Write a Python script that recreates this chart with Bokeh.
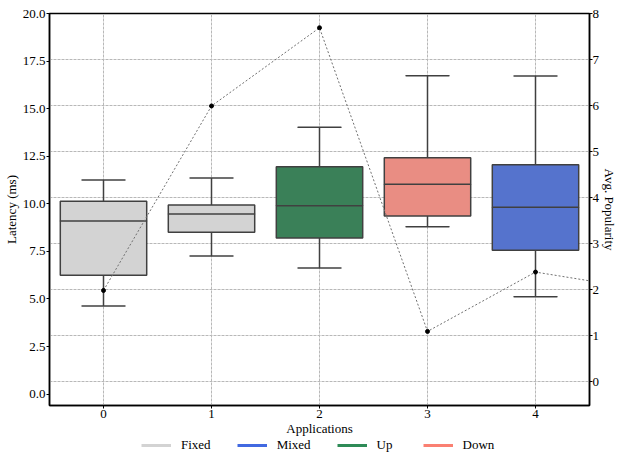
from bokeh.plotting import figure
from bokeh.layouts import column
from bokeh.models import (Range1d, LinearAxis, FixedTicker, Grid, Legend, LegendItem,
                          ColumnDataSource, Label, NumeralTickFormatter)
from bokeh.embed import file_html
from bokeh.resources import INLINE

# ---- data ----
categories = [0, 1, 2, 3, 4]
groups = ["Fixed", "Fixed", "Up", "Down", "Mixed"]
whisker_low = [4.63, 7.26, 6.62, 8.80, 5.12]
q1 = [6.25, 8.50, 8.20, 9.36, 7.56]
median = [9.09, 9.46, 9.90, 11.03, 9.82]
q3 = [10.14, 9.93, 11.95, 12.42, 12.05]
whisker_high = [11.25, 11.36, 14.02, 16.73, 16.72]

pop_x = [0, 1, 2, 3, 4, 5]
avg_popularity = [1.98, 5.99, 7.69, 1.09, 2.38, 2.0]

legend_labels = ["Fixed", "Mixed", "Up", "Down"]
legend_colors = ["#d3d3d3", "#4169e1", "#2e8b57", "#fa8072"]
box_colors = {"Fixed": "#d3d3d3", "Mixed": "#5573cd", "Up": "#3a8058", "Down": "#e98d83"}

left_ticks = [0, 2.5, 5, 7.5, 10, 12.5, 15, 17.5, 20]
right_ticks = [0, 1, 2, 3, 4, 5, 6, 7, 8]

FONT = "Liberation Serif"
EDGE = "#404040"

p = figure(width=620, height=438, output_backend="svg", toolbar_location=None,
           x_range=Range1d(-0.5, 4.5), y_range=Range1d(-0.6, 20.0),
           min_border_left=40, min_border_right=5, min_border_top=13, min_border_bottom=20)
p.extra_y_ranges = {"pop": Range1d(-0.52, 8.0)}

p.outline_line_color = "black"
p.outline_line_width = 1.5
p.xgrid.visible = False
p.ygrid.visible = False

# grids
p.add_layout(Grid(dimension=0, ticker=FixedTicker(ticks=categories), grid_line_color="#b8b8b8",
                  grid_line_dash="3 1", grid_line_width=1))
p.add_layout(Grid(dimension=1, ticker=FixedTicker(ticks=right_ticks), y_range_name="pop",
                  grid_line_color="#b8b8b8", grid_line_dash="3 1", grid_line_width=1))

src = ColumnDataSource(dict(x=categories, lo=whisker_low, q1=q1, med=median, q3=q3, hi=whisker_high,
                            color=[box_colors[g] for g in groups]))

# whiskers
p.segment(x0="x", y0="hi", x1="x", y1="q3", source=src, line_color=EDGE, line_width=1.5)
p.segment(x0="x", y0="lo", x1="x", y1="q1", source=src, line_color=EDGE, line_width=1.5)
p.rect(x="x", y="hi", width=0.4, height=0.0001, source=src, line_color=EDGE, line_width=1.5, fill_alpha=0)
p.rect(x="x", y="lo", width=0.4, height=0.0001, source=src, line_color=EDGE, line_width=1.5, fill_alpha=0)
# boxes
p.vbar(x="x", bottom="q1", top="q3", width=0.8, source=src, fill_color="color",
       line_color=EDGE, line_width=1.5)
p.rect(x="x", y="med", width=0.8, height=0.0001, source=src, line_color=EDGE, line_width=1.5, fill_alpha=0)

# popularity line
p.line(pop_x, avg_popularity, y_range_name="pop", line_color="#707070", line_width=1,
       line_dash="2 2")
p.scatter(pop_x, avg_popularity, y_range_name="pop", size=4, color="black")

# axes
p.xaxis.ticker = FixedTicker(ticks=categories)
p.xaxis.axis_label = "Applications"
p.yaxis.ticker = FixedTicker(ticks=left_ticks)
p.yaxis.formatter = NumeralTickFormatter(format="0.0")
p.yaxis.axis_label = "Latency (ms)"

raxis = LinearAxis(y_range_name="pop", ticker=FixedTicker(ticks=right_ticks),
                   axis_label="Avg. Popularity")
p.add_layout(raxis, "right")

for ax in [p.xaxis[0], p.yaxis[0], raxis]:
    ax.major_label_text_font = FONT
    ax.major_label_text_font_size = "13px"
    ax.major_label_text_color = "black"
    ax.axis_label_text_font = FONT
    ax.axis_label_text_font_size = "13px"
    ax.axis_label_text_font_style = "normal"
    ax.axis_label_text_color = "black"
    ax.axis_line_color = "black"
    ax.axis_line_width = 1.5
    ax.major_tick_line_color = "black"
    ax.major_tick_in = 0
    ax.major_tick_out = 3
    ax.minor_tick_line_color = None
    ax.major_label_standoff = 1
    ax.axis_label_standoff = 1
p.xaxis.axis_label_standoff = 0
raxis.axis_label_standoff = 0
raxis.major_label_standoff = 0

# partially visible panel title
p.add_layout(Label(x=2, y=20.72, text="(a)", text_font=FONT, text_font_size="15px",
                   text_align="center", text_baseline="alphabetic"))

# legend strip below the chart (its line renderers lie outside the visible range)
lg = figure(width=620, height=18, output_backend="svg", toolbar_location=None,
            x_range=Range1d(0, 1), y_range=Range1d(0, 1),
            min_border=0, outline_line_color=None)
lg.axis.visible = False
lg.grid.visible = False
items = []
for lab, col in zip(legend_labels, legend_colors):
    r = lg.line([10, 11], [10, 11], line_color=col, line_width=3)
    items.append(LegendItem(label=lab, renderers=[r]))
legend = Legend(items=items, orientation="horizontal", location=(92, 3),
                label_text_font=FONT, label_text_font_size="13px", label_text_color="black",
                label_standoff=10, glyph_width=30, glyph_height=12, label_height=12, spacing=26,
                padding=0, margin=0, border_line_color=None, background_fill_alpha=0)
lg.add_layout(legend, "center")

layout = column(p, lg, spacing=0)
open("out.html", "w").write(file_html(layout, INLINE))
